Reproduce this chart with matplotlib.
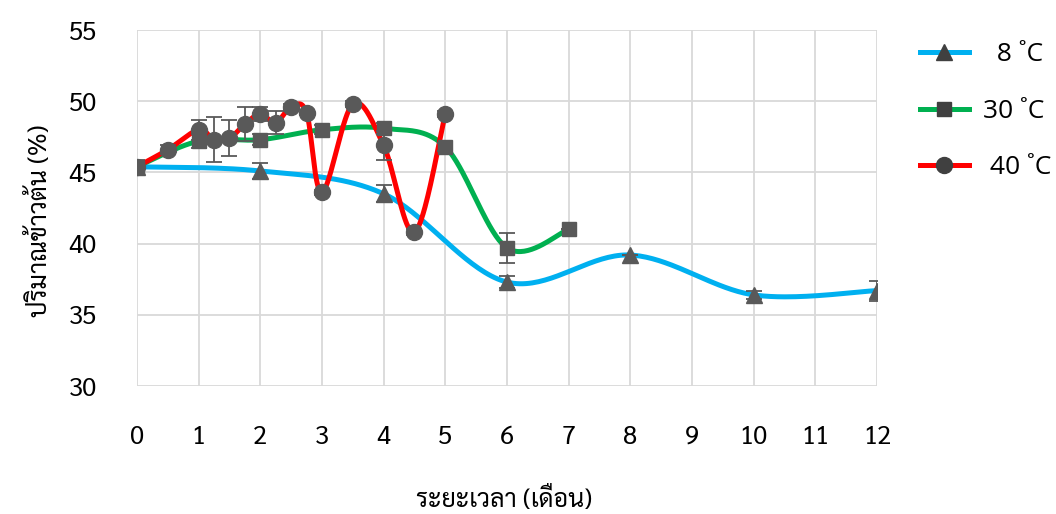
import numpy as np
import matplotlib
matplotlib.use("Agg")
import matplotlib.pyplot as plt

plt.rcParams['font.family'] = ['Sarabun', 'DejaVu Sans']

# ปริมาณข้าวต้น (%) ที่อุณหภูมิต่างๆ
x_8 = [0, 2, 4, 6, 8, 10, 12]
y_8 = [45.4, 45.1, 43.5, 37.3, 39.2, 36.4, 36.7]
e_8 = [0.5, 0.55, 0.6, 0.4, 0.0, 0.3, 0.7]

x_30 = [0, 1, 2, 3, 4, 5, 6, 7]
y_30 = [45.4, 47.2, 47.3, 48.0, 48.1, 46.8, 39.7, 41.0]
e_30 = [0.4, 0.5, 0.4, 0.3, 0.4, 0.3, 1.05, 0.0]

x_40 = [0, 0.5, 1, 1.25, 1.5, 1.75, 2, 2.25, 2.5, 2.75, 3, 3.5, 4, 4.5, 5]
y_40 = [45.4, 46.6, 48.0, 47.3, 47.4, 48.4, 49.1, 48.5, 49.6, 49.2, 43.6, 49.8, 46.9, 40.8, 49.1]
e_40 = [0.4, 0.3, 0.7, 1.6, 1.25, 1.2, 0.5, 0.8, 0.2, 0.2, 0.2, 0.2, 1.0, 0.2, 0.2]

labels = ['  8 ˚C', '30 ˚C', ' 40 ˚C']
colors = ['#00B0F0', '#00B050', '#FF0000']
markers = ['^', 's', 'o']
marker_color = '#595959'


def smooth(xs, ys, n=40):
    # Bezier แบบ Catmull-Rom คล้ายเส้นโค้งของ Excel
    xs = np.asarray(xs, float)
    ys = np.asarray(ys, float)
    px, py = [], []
    m = len(xs)
    for i in range(m - 1):
        i0 = max(i - 1, 0)
        i3 = min(i + 2, m - 1)
        p0 = np.array([xs[i], ys[i]])
        p3 = np.array([xs[i + 1], ys[i + 1]])
        p1 = p0 + (p3 - np.array([xs[i0], ys[i0]])) / 6.0
        p2 = p3 - (np.array([xs[i3], ys[i3]]) - p0) / 6.0
        t = np.linspace(0, 1, n)[:, None]
        pts = ((1 - t) ** 3) * p0 + 3 * ((1 - t) ** 2) * t * p1 + 3 * (1 - t) * t ** 2 * p2 + t ** 3 * p3
        px.extend(pts[:, 0])
        py.extend(pts[:, 1])
    return px, py


fig = plt.figure(figsize=(10.56, 5.14), dpi=100)
ax = fig.add_axes([0.1297, 0.249, 0.7008, 0.6925])

series = [(x_8, y_8, e_8), (x_30, y_30, e_30), (x_40, y_40, e_40)]
sizes = [11.5, 10.5, 11.5]
handles = []
for k, (xs, ys, es) in enumerate(series):
    sx, sy = smooth(xs, ys)
    ax.plot(sx, sy, color=colors[k], lw=3.6, zorder=2 + k, solid_capstyle='round')
    ax.errorbar(xs, ys, yerr=es, fmt='none', ecolor=marker_color, elinewidth=1.3,
                capsize=6, capthick=1.3, zorder=5)
    ax.plot(xs, ys, linestyle='none', marker=markers[k], ms=sizes[k],
            color=marker_color, zorder=6)
    h, = ax.plot([], [], color=colors[k], lw=3.6, marker=markers[k], ms=sizes[k],
                 mfc='#404040', mec='#404040')
    handles.append(h)

ax.set_xlim(0, 12)
ax.set_ylim(30, 55)
ax.set_xticks(range(0, 13))
ax.set_yticks(range(30, 56, 5))
ax.grid(True, color='#D9D9D9', lw=1.3)
ax.set_axisbelow(True)
for s in ax.spines.values():
    s.set_visible(False)
ax.tick_params(length=0, labelsize=18.5, pad=28)
ax.tick_params(axis='y', pad=29)

# ชื่อแกน
fig.text(0.477, 0.027, 'ระยะเวลา (เดือน)', fontsize=18, ha='center', va='center')
fig.text(0.038, 0.57, 'ปริมาณข้าวต้น (%)', fontsize=18, ha='center', va='center',
         rotation=90)

leg = fig.legend(handles, labels, loc='upper left', bbox_to_anchor=(0.871, 0.918),
                 frameon=False, handlelength=1.85, labelspacing=1.2,
                 handletextpad=0.55, borderpad=0, borderaxespad=0,
                 prop={'family': ['Open Sans', 'DejaVu Sans'], 'size': 19})

fig.savefig('out.png', dpi=100)
